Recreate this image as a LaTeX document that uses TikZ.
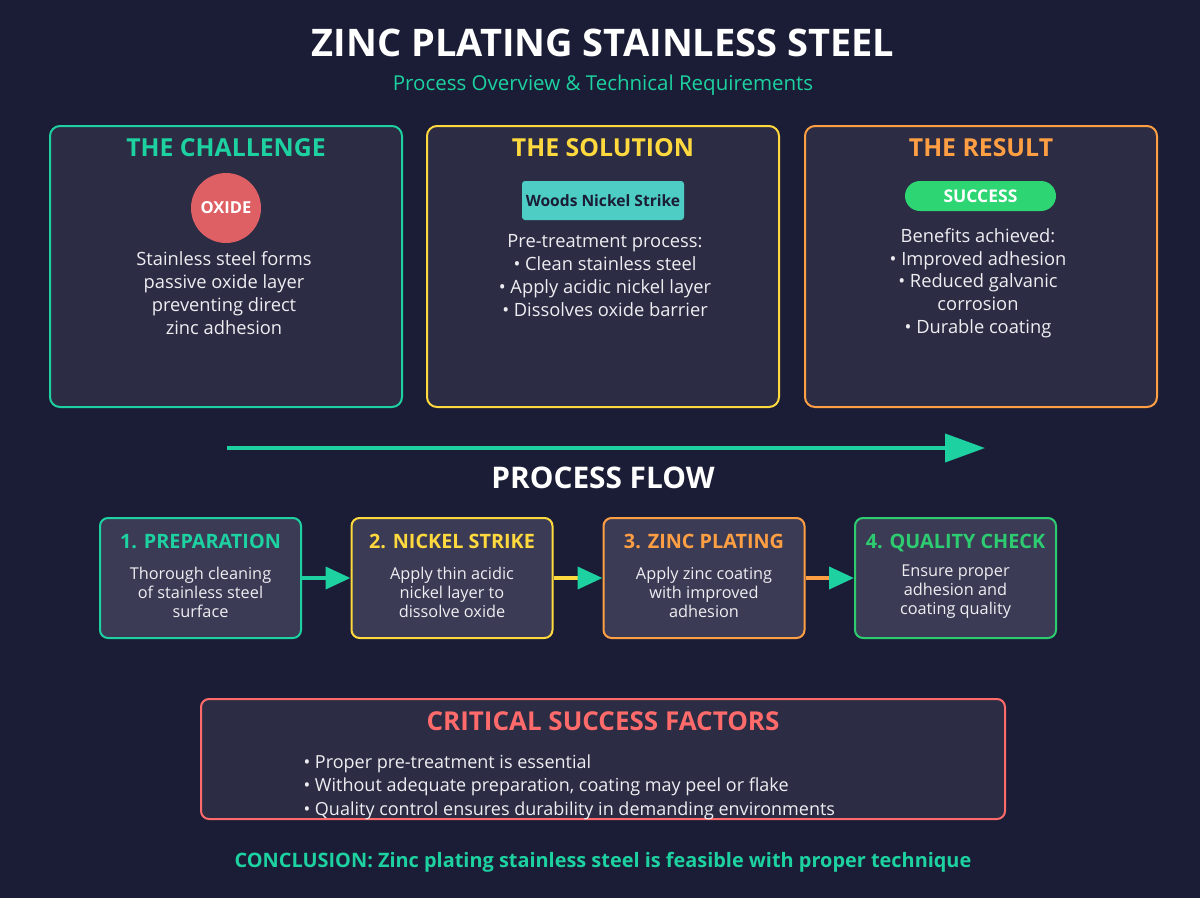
\documentclass[tikz,border=0pt]{standalone}
\usepackage{fontspec}
\setmainfont{Open Sans}
\usetikzlibrary{positioning,arrows.meta}

\definecolor{bgcol}{HTML}{1A1D35}
\definecolor{cardfill}{HTML}{2C2C44}
\definecolor{stepfill}{HTML}{3B3B55}
\definecolor{tealc}{HTML}{1DD1A1}
\definecolor{yellowc}{HTML}{FFD93D}
\definecolor{orangec}{HTML}{FF9F43}
\definecolor{oxidec}{HTML}{DE6064}
\definecolor{successc}{HTML}{2ED573}
\definecolor{checkc}{HTML}{2ECC71}
\definecolor{criticalc}{HTML}{FF6B6B}
\definecolor{woodsc}{HTML}{4ECDC4}
\definecolor{textc}{HTML}{EEEEF2}

\tikzset{
  card/.style={draw=#1, line width=2pt, fill=cardfill, rounded corners=10pt,
    minimum width=352pt, minimum height=281pt, inner sep=0pt},
  stepbox/.style={draw=#1, line width=2pt, fill=stepfill, rounded corners=8pt,
    minimum width=201pt, minimum height=120pt, inner sep=0pt},
  cardtitle/.style={text=#1, font=\fontsize{24.8}{28}\selectfont\bfseries},
  steptitle/.style={text=#1, text height=14pt, text depth=4pt,
    font=\fontsize{19.8}{22}\selectfont\bfseries},
  body/.style={text=textc, align=center, font=\fontsize{18.3}{22.8}\selectfont},
  stepbody/.style={text=textc, align=center, font=\fontsize{16.3}{19}\selectfont},
  flow/.style={draw=#1, line width=4pt,
    -{Triangle[color=tealc, length=25pt, width=22pt]}},
}

\begin{document}
\begin{tikzpicture}[x=1pt, y=-1pt]
    % Background
    \fill[bgcol] (0,0) rectangle (1200,898);

    % Heading
    \node[text=white, font=\fontsize{38}{44}\selectfont\bfseries] (title) at (603,43) {ZINC PLATING STAINLESS STEEL};
    \node[text=tealc, font=\fontsize{20.5}{24}\selectfont] (subtitle) at (603,85) {Process Overview \& Technical Requirements};

    % The challenge
    \node[card=tealc] (challenge) at (226,266.5) {};
    \node[cardtitle=tealc] (challengetitle) at (226,148) {THE CHALLENGE};
    \node[circle, fill=oxidec, minimum size=70pt, inner sep=0pt, text=white,
      font=\fontsize{16.5}{18}\selectfont\bfseries] (oxide) at (226,208) {OXIDE};
    \node[body] (challengetext) at (224,293) {Stainless steel forms\\passive oxide layer\\preventing direct\\ zinc adhesion};

    % The solution
    \node[card=yellowc] (solution) at (603,266.5) {};
    \node[cardtitle=yellowc] (solutiontitle) at (603,148) {THE SOLUTION};
    \node[fill=woodsc, rounded corners=3pt, minimum width=162pt, minimum height=39pt,
      inner sep=0pt, text=bgcol, font=\fontsize{15.6}{17}\selectfont\bfseries] (woods) at (603,200.5) {Woods Nickel Strike};
    \node[body] (solutiontext) at (605,275.5) {Pre-treatment process:\\• Clean stainless steel\\• Apply acidic nickel layer\\• Dissolves oxide barrier};

    % The result
    \node[card=orangec] (result) at (981,266.5) {};
    \node[cardtitle=orangec] (resulttitle) at (981,148) {THE RESULT};
    \node[fill=successc, rounded corners=15pt, minimum width=151pt, minimum height=30pt,
      inner sep=0pt, text=white, font=\fontsize{17.5}{19}\selectfont\bfseries] (success) at (980.5,196) {SUCCESS};
    \node[body] (resulttext) at (978,283) {Benefits achieved:\\• Improved adhesion\\• Reduced galvanic\\corrosion\\• Durable coating};

    % Overall arrow
    \coordinate (flowstart) at (227,448);
    \coordinate (flowend) at (985,448);
    \draw[tealc, line width=4pt, -{Triangle[length=40pt, width=28pt]}] (flowstart) -- (flowend);
    \node[text=white, font=\fontsize{29.8}{34}\selectfont\bfseries] (flowtitle) at (603,478) {PROCESS FLOW};

    % Process steps
    \node[stepbox=tealc] (prep) at (200.5,578) {};
    \node[stepbox=yellowc] (strike) at (452,578) {};
    \node[stepbox=orangec] (plating) at (704,578) {};
    \node[stepbox=checkc] (check) at (955.5,578) {};

    \node[steptitle=tealc] (preptitle) at (200.5,543) {1. PREPARATION};
    \node[steptitle=yellowc] (striketitle) at (452,543) {2. NICKEL STRIKE};
    \node[steptitle=orangec] (platingtitle) at (704,543) {3. ZINC PLATING};
    \node[steptitle=checkc] (checktitle) at (955.5,543) {4. QUALITY CHECK};

    \node[stepbody] (preptext) at (200.5,592) {Thorough cleaning\\of stainless steel\\surface};
    \node[stepbody] (striketext) at (452,592) {Apply thin acidic\\nickel layer to\\dissolve oxide};
    \node[stepbody] (platingtext) at (704,592) {Apply zinc coating\\with improved\\adhesion};
    \node[stepbody] (checktext) at (955.5,592) {Ensure proper\\adhesion and\\coating quality};

    \draw[flow=tealc] (prep.east) -- (strike.west);
    \draw[flow=yellowc] (strike.east) -- (plating.west);
    \draw[flow=orangec] (plating.east) -- (check.west);

    % Critical success factors
    \node[draw=criticalc, line width=2pt, fill=cardfill, rounded corners=8pt,
      minimum width=804pt, minimum height=120pt, inner sep=0pt] (critical) at (603,759) {};
    \node[text=criticalc, font=\fontsize{26}{30}\selectfont\bfseries] (criticaltitle) at (603,721) {CRITICAL SUCCESS FACTORS};
    \node[text=textc, align=left, anchor=west, font=\fontsize{18}{23.5}\selectfont] (criticaltext) at (300,787)
      {• Proper pre-treatment is essential\\• Without adequate preparation, coating may peel or flake\\• Quality control ensures durability in demanding environments};

    % Conclusion
    \node[text=tealc, font=\fontsize{19.9}{23}\selectfont\bfseries] (conclusion) at (603,862) {CONCLUSION: Zinc plating stainless steel is feasible with proper technique};
\end{tikzpicture}
\end{document}
